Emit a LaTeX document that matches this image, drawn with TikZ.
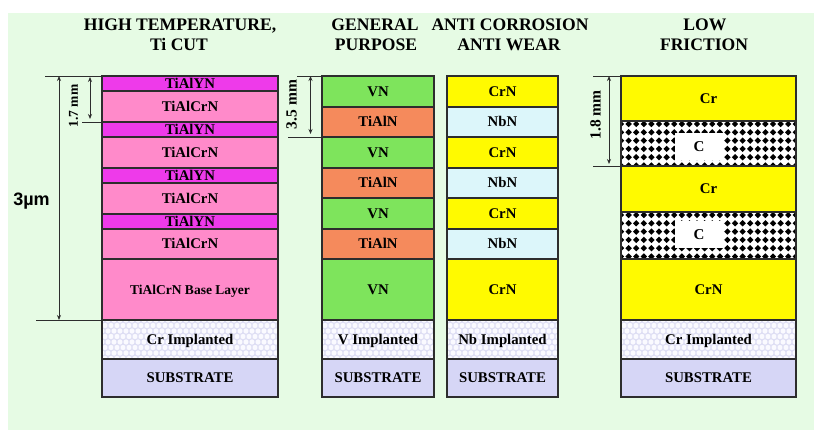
\documentclass[tikz,border=0pt]{standalone}
\usepackage{fontspec}
\setmainfont{Liberation Serif}
\newfontfamily\lsans{Liberation Sans}
\usetikzlibrary{arrows.meta,calc}
\definecolor{bgc}{RGB}{230,251,228}
\definecolor{magc}{RGB}{238,58,234}
\definecolor{pinkc}{RGB}{255,138,202}
\definecolor{vnc}{RGB}{126,228,92}
\definecolor{orc}{RGB}{245,138,92}
\definecolor{yelc}{RGB}{255,250,0}
\definecolor{nbc}{RGB}{220,246,250}
\definecolor{subc}{RGB}{214,214,246}
\definecolor{implc}{RGB}{250,250,255}
\definecolor{implp}{RGB}{222,222,244}
\definecolor{edgec}{RGB}{45,45,45}
\newcommand\Lay[7]{\node[layer,#6,minimum width={(#4-#2)*1pt},minimum height={(#5-#3)*1pt}] (#1) at ({(#2+#4)/2},{(#3+#5)/2}) {#7};}
\tikzset{
  layer/.style={draw=edgec,line width=1.1pt,inner sep=0pt,outer sep=0pt,
    text height=9.6pt,text depth=0pt,font=\bfseries\fontsize{14.8}{14.8}\selectfont},
  mag/.style={fill=magc}, pink/.style={fill=pinkc}, vn/.style={fill=vnc},
  tialn/.style={fill=orc}, crn/.style={fill=yelc}, nbn/.style={fill=nbc},
  subst/.style={fill=subc},
  impl/.style={fill=implc,path picture={
    \foreach \i in {0,...,30}{\foreach \j in {0,...,7}{
      \pgfmathsetmacro\xo{\i*6+3*mod(\j,2)}
      \draw[implp,line width=0.7pt] ($(path picture bounding box.north west)+(\xo,\j*5.5)$) circle (3.2);}}}},
  cpat/.style={fill=white,path picture={
    \foreach \i in {0,...,23}{\foreach \j in {0,...,6}{
      \fill[black] ($(path picture bounding box.north west)+(\i*7.6,\j*8.3+3)$) +(-3.2,0) -- +(0,3.2) -- +(3.2,0) -- +(0,-3.2) -- cycle;}}}},
  cbox/.style={fill=white,inner sep=0pt,minimum width=48pt,minimum height=27pt,
    text height=9.6pt,text depth=0pt,font=\bfseries\fontsize{15}{15}\selectfont},
  title/.style={anchor=base,inner sep=0pt,font=\bfseries\fontsize{17.6}{17.6}\selectfont},
  dimline/.style={draw=edgec,line width=0.9pt},
  dimarrow/.style={draw=edgec,line width=0.9pt,{Stealth[length=5pt,width=4pt]}-{Stealth[length=5pt,width=4pt]}},
  dimlabel/.style={rotate=90,inner sep=0pt,font=\bfseries\fontsize{14}{14}\selectfont}
}
\begin{document}
\begin{tikzpicture}[x=1pt,y=-1pt]
\useasboundingbox (0,0) rectangle (814,430);
\fill[white] (0,0) rectangle (814,430);
\fill[bgc] (8,13) rectangle (814,430);
% titles
\node[title] (t1a) at (180,30.5) {HIGH TEMPERATURE,};
\node[title] (t1b) at (179,51) {Ti CUT};
\node[title] (t2a) at (375,30.5) {GENERAL};
\node[title] (t2b) at (376,51) {PURPOSE};
\node[title] (t3a) at (510,30.5) {ANTI CORROSION};
\node[title] (t3b) at (509,51) {ANTI WEAR};
\node[title] (t4a) at (705,30.5) {LOW};
\node[title] (t4b) at (704,51) {FRICTION};
% column 1
\Lay{h1}{102}{76}{278}{91}{mag}{TiAlYN}
\Lay{h2}{102}{91}{278}{122}{pink}{TiAlCrN}
\Lay{h3}{102}{122}{278}{137}{mag}{TiAlYN}
\Lay{h4}{102}{137}{278}{168}{pink}{TiAlCrN}
\Lay{h5}{102}{168}{278}{183}{mag}{TiAlYN}
\Lay{h6}{102}{183}{278}{214}{pink}{TiAlCrN}
\Lay{h7}{102}{214}{278}{229}{mag}{TiAlYN}
\Lay{h8}{102}{229}{278}{259}{pink}{TiAlCrN}
\Lay{h9}{102}{259}{278}{320}{pink}{\fontsize{13.5}{13.5}\selectfont TiAlCrN Base Layer}
\Lay{h10}{102}{320}{278}{359}{impl}{Cr Implanted}
\Lay{h11}{102}{359}{278}{397}{subst}{SUBSTRATE}
% column 2
\Lay{g1}{322}{76}{434}{107}{vn}{VN}
\Lay{g2}{322}{107}{434}{137}{tialn}{TiAlN}
\Lay{g3}{322}{137}{434}{168}{vn}{VN}
\Lay{g4}{322}{168}{434}{198}{tialn}{TiAlN}
\Lay{g5}{322}{198}{434}{229}{vn}{VN}
\Lay{g6}{322}{229}{434}{259}{tialn}{TiAlN}
\Lay{g7}{322}{259}{434}{320}{vn}{VN}
\Lay{g8}{322}{320}{434}{359}{impl}{V Implanted}
\Lay{g9}{322}{359}{434}{397}{subst}{SUBSTRATE}
% column 3
\Lay{k1}{447}{76}{558}{107}{crn}{CrN}
\Lay{k2}{447}{107}{558}{137}{nbn}{NbN}
\Lay{k3}{447}{137}{558}{168}{crn}{CrN}
\Lay{k4}{447}{168}{558}{198}{nbn}{NbN}
\Lay{k5}{447}{198}{558}{229}{crn}{CrN}
\Lay{k6}{447}{229}{558}{259}{nbn}{NbN}
\Lay{k7}{447}{259}{558}{320}{crn}{CrN}
\Lay{k8}{447}{320}{558}{359}{impl}{Nb Implanted}
\Lay{k9}{447}{359}{558}{397}{subst}{SUBSTRATE}
% column 4
\Lay{f1}{621}{76}{796}{121}{crn}{Cr}
\Lay{f2}{621}{121}{796}{166}{cpat}{}
\node[cbox] (c1) at (699,146.5) {C};
\Lay{f3}{621}{166}{796}{212}{crn}{Cr}
\Lay{f4}{621}{212}{796}{259}{cpat}{}
\node[cbox] (c2) at (699,235) {C};
\Lay{f5}{621}{259}{796}{320}{crn}{CrN}
\Lay{f6}{621}{320}{796}{359}{impl}{Cr Implanted}
\Lay{f7}{621}{359}{796}{397}{subst}{SUBSTRATE}
% dimension coordinates
\coordinate (e1) at (45,76);
\coordinate (e2) at (82,122);
\coordinate (e3) at (36,320);
\coordinate (e4) at (297,76);
\coordinate (e5) at (288,137);
\coordinate (e6) at (593,76);
\coordinate (e7) at (593,166);
\coordinate (a1t) at (59,76);  \coordinate (a1b) at (59,320);
\coordinate (a2t) at (90,77);  \coordinate (a2b) at (90,119);
\coordinate (a3t) at (310.5,76); \coordinate (a3b) at (310.5,134);
\coordinate (a4t) at (609,76); \coordinate (a4b) at (609,164);
\draw[dimline] (e1) -- (h1.north west);
\draw[dimline] (e2) -- (h2.south west);
\draw[dimline] (e3) -- (h9.south west);
\draw[dimline] (e4) -- (g1.north west);
\draw[dimline] (e5) -- (g2.south west);
\draw[dimline] (e6) -- (f1.north west);
\draw[dimline] (e7) -- (f2.south west);
\draw[dimarrow] (a1t) -- (a1b);
\draw[dimarrow] (a2t) -- (a2b);
\draw[dimarrow] (a3t) -- (a3b);
\draw[dimarrow] (a4t) -- (a4b);
\node[dimlabel,font=\bfseries\fontsize{13.5}{13.5}\selectfont] (l1) at (73.5,106) {1.7 mm};
\node[dimlabel,font=\bfseries\fontsize{15.5}{15.5}\selectfont] (l2) at (291.5,104.5) {3.5 mm};
\node[dimlabel,font=\bfseries\fontsize{15.5}{15.5}\selectfont] (l3) at (595.5,115) {1.8 mm};
\node[inner sep=0pt,font=\lsans\bfseries\fontsize{18}{18}\selectfont] (l4) at (31.5,201) {3µm};
\end{tikzpicture}
\end{document}
